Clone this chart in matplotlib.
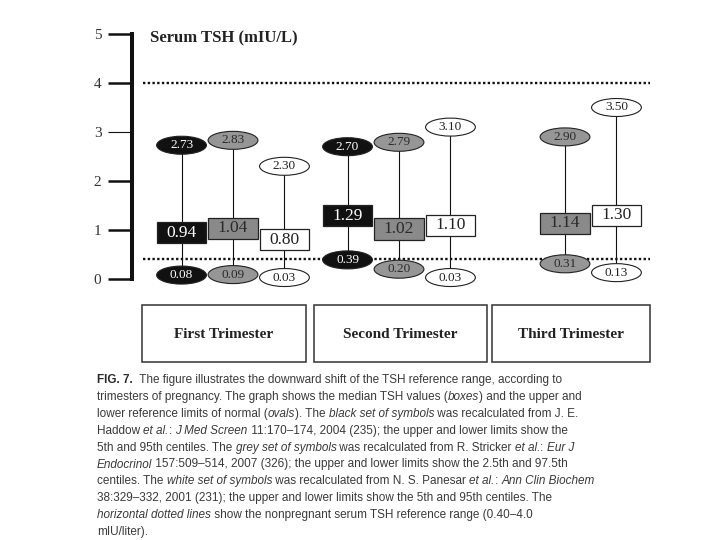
import matplotlib
matplotlib.use('Agg')
import matplotlib.pyplot as plt
import numpy as np
from matplotlib.patches import Ellipse, Rectangle
from matplotlib import font_manager

# data
trimesters = ['First Trimester', 'Second Trimester', 'Third Trimester']
ref_range = [0.40, 4.0]

# black set (Haddow), grey set (Stricker), white set (Panesar)
haddow_median = [0.94, 1.29, np.nan]
haddow_upper = [2.73, 2.70, np.nan]
haddow_lower = [0.08, 0.39, np.nan]

stricker_median = [1.04, 1.02, 1.14]
stricker_upper = [2.83, 2.79, 2.90]
stricker_lower = [0.09, 0.20, 0.31]

panesar_median = [0.80, 1.10, 1.30]
panesar_upper = [2.30, 3.10, 3.50]
panesar_lower = [0.03, 0.03, 0.13]

yticks = [0, 1, 2, 3, 4, 5]

serif = 'Liberation Serif'
names = {f.name for f in font_manager.fontManager.ttflist}
if 'Liberation Sans Narrow' in names:
    cap_font, cap_size = 'Liberation Sans Narrow', 9.2
else:
    cap_font, cap_size = 'Liberation Sans', 8.45

fig = plt.figure(figsize=(7.2, 5.4), dpi=100)
ax = fig.add_axes([132/720, 1-279/540, 588/720, 245/540])
ax.set_xlim(-0.6084, 2.9337)
ax.set_ylim(0, 5)

for s in ['top', 'right', 'bottom']:
    ax.spines[s].set_visible(False)
ax.spines['left'].set_linewidth(2.9)
ax.spines['left'].set_color('#111')
ax.set_xticks([])
ax.set_yticks(yticks)
ax.set_yticklabels([str(t) for t in yticks], fontfamily=serif, fontsize=11, color='#333')
ax.tick_params(axis='y', direction='out', length=17, width=1.8, pad=5, color='#111')
ax.yaxis.get_major_ticks()[3].tick1line.set_markeredgewidth(0.8)

# reference range of nonpregnant adults
ax.hlines(ref_range, -0.542, 2.512, colors='#111', linestyles=(0, (1, 1)), lw=1.7, zorder=1)

sets = [
    (haddow_median, haddow_upper, haddow_lower, -0.31, '#111111', '#111111', 'white'),
    (stricker_median, stricker_upper, stricker_lower, 0.0, '#8a8a8a', '#969696', '#2a2a2a'),
    (panesar_median, panesar_upper, panesar_lower, 0.31, 'white', 'white', '#222'),
]

ow, oh = 0.30, 0.367   # oval size
bw, bh = 0.30, 0.43    # box size
for med, up, lo, off, box_c, oval_c, txt_c in sets:
    for i in range(len(trimesters)):
        if np.isnan(med[i]):
            continue
        x = i + off
        ax.plot([x, x], [lo[i], up[i]], color='#111', lw=0.8, zorder=2, clip_on=False)
        for v in (up[i], lo[i]):
            ax.add_patch(Ellipse((x, v), ow, oh, facecolor=oval_c, edgecolor='#222',
                                 lw=0.8, zorder=3, clip_on=False))
            ax.text(x, v, f'{v:.2f}', ha='center', va='center', fontfamily=serif,
                    fontsize=9.5, color=txt_c, zorder=4, clip_on=False)
        ax.add_patch(Rectangle((x - bw/2, med[i] - bh/2), bw, bh, facecolor=box_c,
                               edgecolor='#222', lw=0.9, zorder=3, clip_on=False))
        ax.text(x, med[i], f'{med[i]:.2f}', ha='center', va='center', fontfamily=serif,
                fontsize=12.5, color=txt_c, zorder=4, clip_on=False)

# category boxes under the plot
box_left = [-0.548, 0.488, 1.56]
box_w = [0.988, 1.042, 0.952]
for i, name in enumerate(trimesters):
    ax.add_patch(Rectangle((box_left[i], -1.70), box_w[i], 1.17, facecolor='white',
                           edgecolor='#333', lw=1.1, clip_on=False))
    ax.text(box_left[i] + box_w[i]/2, -1.14, name, ha='center', va='center',
            fontfamily=serif, fontweight='bold', fontsize=11, color='#222')

fig.text(150/720, 1-38/540, 'Serum TSH (mIU/L)', fontfamily=serif, fontweight='bold',
         fontsize=12, color='#222', va='center')

# caption
caption = [
    [('FIG. 7.', 'b'), ('  The figure illustrates the downward shift of the TSH reference range, according to', 'n')],
    [('trimesters of pregnancy. The graph shows the median TSH values (', 'n'), ('boxes', 'i'), (') and the upper and', 'n')],
    [('lower reference limits of normal (', 'n'), ('ovals', 'i'), ('). The ', 'n'), ('black set of symbols', 'i'), (' was recalculated from J. E.', 'n')],
    [('Haddow ', 'n'), ('et al.', 'i'), (': ', 'n'), ('J Med Screen', 'i'), (' 11:170\u2013174, 2004 (235); the upper and lower limits show the', 'n')],
    [('5th and 95th centiles. The ', 'n'), ('grey set of symbols', 'i'), (' was recalculated from R. Stricker ', 'n'), ('et al.', 'i'), (': ', 'n'), ('Eur J', 'i')],
    [('Endocrinol', 'i'), (' 157:509\u2013514, 2007 (326); the upper and lower limits show the 2.5th and 97.5th', 'n')],
    [('centiles. The ', 'n'), ('white set of symbols', 'i'), (' was recalculated from N. S. Panesar ', 'n'), ('et al.', 'i'), (': ', 'n'), ('Ann Clin Biochem', 'i')],
    [('38:329\u2013332, 2001 (231); the upper and lower limits show the 5th and 95th centiles. The', 'n')],
    [('horizontal dotted lines', 'i'), (' show the nonpregnant serum TSH reference range (0.40\u20134.0', 'n')],
    [('mIU/liter).', 'n')],
]

for k, parts in enumerate(caption):
    y = 1 - (383 + 16.9*k)/540
    prev = None
    for s, st in parts:
        kw = dict(fontfamily=cap_font, fontsize=cap_size, color='#3a3a3a', va='baseline',
                  annotation_clip=False)
        if st == 'i':
            kw['fontstyle'] = 'italic'
        if st == 'b':
            kw['fontweight'] = 'bold'
            kw['color'] = '#2a2a2a'
        if prev is None:
            prev = ax.annotate(s, xy=(97/720, y), xycoords='figure fraction', **kw)
        else:
            prev = ax.annotate(s, xy=(1, y), xycoords=(prev, 'figure fraction'), **kw)

fig.savefig('out.png', dpi=100)
